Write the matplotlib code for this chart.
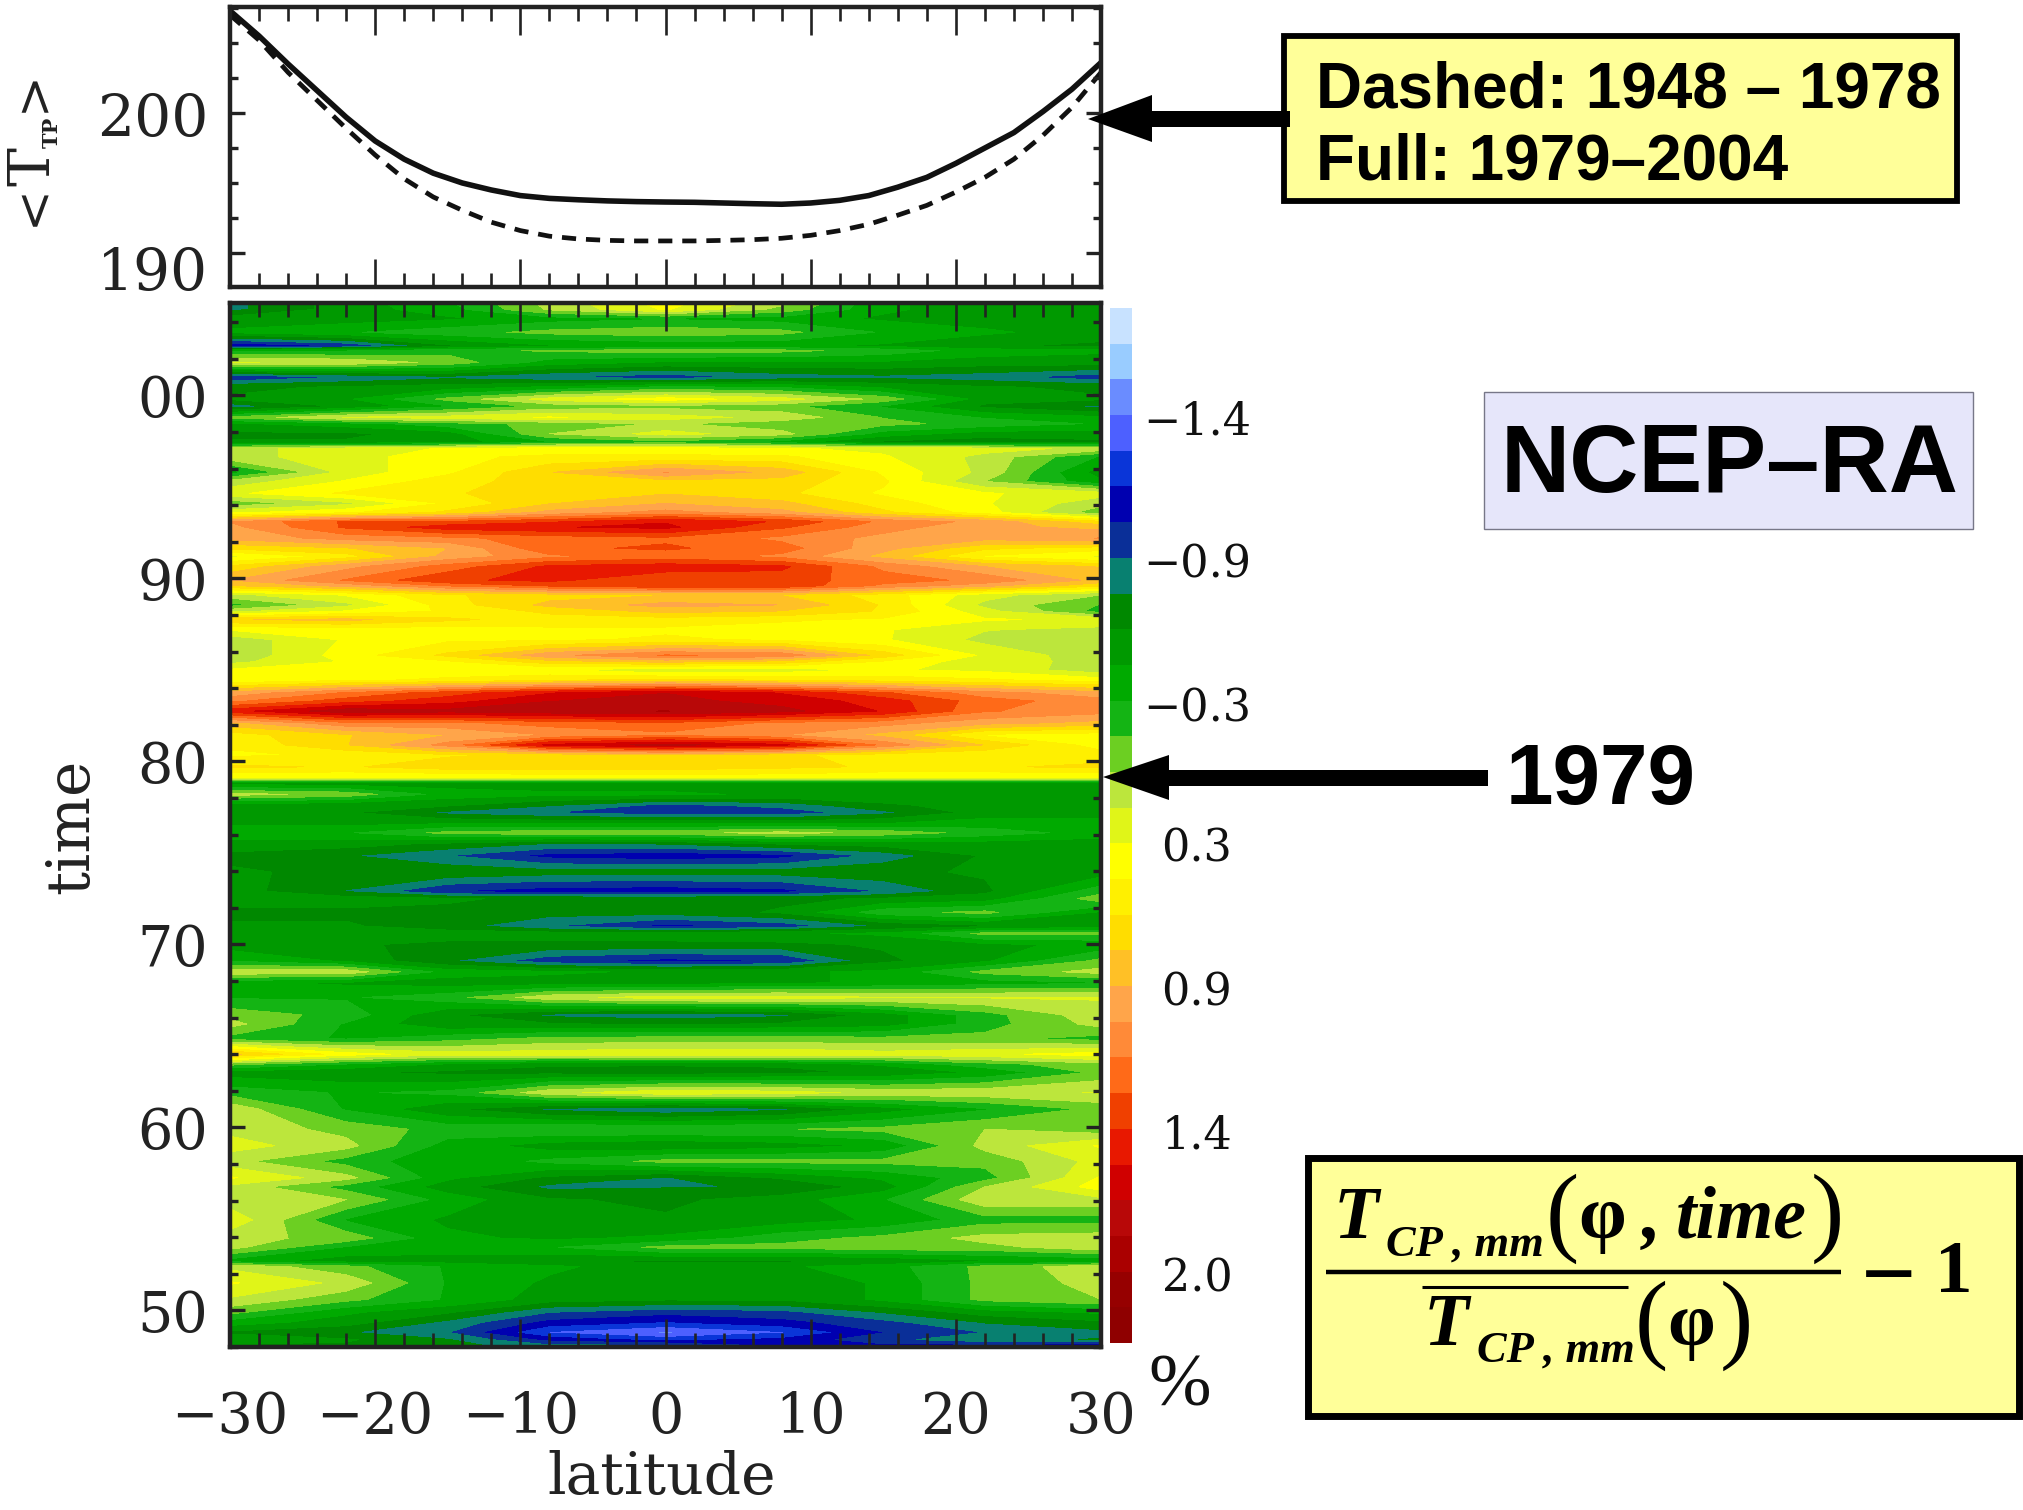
import numpy as np
import matplotlib
matplotlib.use('Agg')
import matplotlib.pyplot as plt
from matplotlib.colors import ListedColormap, BoundaryNorm
from matplotlib.patches import Rectangle, Polygon

W, H = 2024, 1510

# top panel, zonal mean temperature
lat_line = np.arange(-30, 31, 2)
t_full = [207.3, 205.5, 203.5, 201.6, 199.7, 198.0, 196.7, 195.7, 195.0, 194.5, 194.1,
          193.9, 193.8, 193.72, 193.67, 193.64, 193.62, 193.57, 193.52, 193.48, 193.57,
          193.76, 194.1, 194.7, 195.4, 196.4, 197.5, 198.6, 200.1, 201.7, 203.6]
t_dash = [207.0, 205.2, 202.9, 200.9, 198.9, 197.0, 195.3, 194.0, 193.05, 192.2, 191.6,
          191.2, 191.0, 190.9, 190.86, 190.86, 190.86, 190.9, 190.95, 191.05, 191.26,
          191.6, 192.05, 192.7, 193.4, 194.35, 195.4, 196.7, 198.4, 200.4, 202.9]

# main panel, anomaly in percent (time counted from 1900, newest first)
lat = [-30, -22, -15, -8, 0, 8, 15, 22, 30]
time = [105.1, 104.7, 104.2, 103.45, 102.7, 102.45, 101.8, 101.0, 100.45, 99.8, 99.4, 98.8,
        98.45, 97.9, 97.45, 97.1, 96.65, 95.8, 95.3, 94.65, 94.1, 93.6, 93.1, 92.8, 92.2,
        91.65, 91.2, 90.65, 89.9, 89.6, 89.1, 88.55, 88.2, 87.75, 87.2, 86.65, 85.8, 85.45,
        85.0, 84.45, 83.75, 83.3, 82.75, 82.1, 81.45, 80.9, 80.35, 79.7, 79.15, 78.8,
        78.2, 77.6, 77.2, 76.55, 76.1, 75.5, 74.85, 73.95, 72.9, 72.5, 71.75, 71.0, 70.6,
        70.0, 69.1, 68.5, 67.9, 67.1, 66.15, 65.65, 64.85, 64.0, 63.45, 63.0, 61.9, 61.0,
        59.9, 59.0, 58.15, 57.25, 56.75, 56.05, 54.95, 53.95, 53.45, 52.7, 52.4, 51.5,
        50.6, 49.9, 49.35, 48.8, 48.4, 48.05]
anom = [
    [-.75, -.5, -.3, .05, .35, .05, -.4, -.5, -.5],
    [-.75, -.5, -.35, .02, .3, -.05, -.4, -.5, -.5],
    [-.5, -.5, -.45, -.35, -.3, -.35, -.45, -.5, -.5],
    [-.4, -.3, -.2, -.1, -.05, -.1, -.3, -.4, -.5],
    [-1.15, -1.0, -.6, -.45, -.4, -.4, -.45, -.55, -.6],
    [-.3, -.3, -.2, -.12, -.08, -.1, -.2, -.35, -.4],
    [.15, .12, -.05, -.35, -.45, -.45, -.45, -.5, -.5],
    [-1.0, -.85, -.75, -.85, -.95, -.8, -.75, -.8, -.95],
    [-.6, -.55, -.5, -.4, -.25, -.3, -.45, -.55, -.6],
    [-.55, -.45, -.1, .2, .35, .2, -.05, -.5, -.55],
    [-.8, -.55, -.3, -.1, -.05, -.1, -.3, -.6, -.75],
    [-.1, .15, .2, .3, .2, .1, -.15, -.3, -.4],
    [-.45, -.35, -.2, -.1, .02, -.1, -.1, -.2, -.3],
    [-.6, -.6, -.5, .0, .2, .05, -.35, -.5, -.5],
    [-.55, -.55, -.5, -.3, -.2, -.35, -.6, -.65, -.6],
    [.1, .2, .3, .35, .35, .3, .25, .2, .1],
    [.1, .2, .4, .45, .45, .45, .3, .1, -.3],
    [-.35, .2, .4, .7, 1.0, .8, .4, .1, -.5],
    [.05, .3, .5, .65, .65, .65, .45, .0, -.4],
    [.25, .45, .55, .65, .7, .6, .4, .3, .2],
    [-.1, .1, .45, .7, .85, .75, .5, .3, .05],
    [.25, .4, .6, .9, 1.05, .9, .6, .35, -.1],
    [1.0, 1.3, 1.3, 1.4, 1.55, 1.4, 1.1, .95, .6],
    [.95, 1.3, 1.5, 1.55, 1.6, 1.3, 1.05, .9, .8],
    [.9, 1.05, 1.1, 1.2, 1.25, 1.1, .95, .9, 1.0],
    [.6, .7, .85, 1.25, 1.3, 1.2, .9, .6, .5],
    [.25, .5, .9, 1.1, 1.2, 1.1, .8, .4, .25],
    [.6, .95, 1.2, 1.45, 1.5, 1.45, 1.1, .85, .7],
    [.85, 1.15, 1.4, 1.45, 1.3, 1.35, 1.2, 1.1, .8],
    [.7, .9, 1.15, 1.3, 1.4, 1.4, 1.1, .9, .6],
    [.1, .3, .55, .65, .7, .7, .5, .2, .0],
    [-.2, .1, .5, .75, .9, .85, .55, .1, -.15],
    [.1, .3, .45, .6, .75, .7, .55, .2, -.2],
    [.7, .75, .6, .5, .5, .45, .4, .3, .25],
    [.3, .35, .35, .4, .4, .35, .3, .15, .1],
    [.05, .3, .4, .4, .45, .4, .3, .1, .05],
    [.02, .35, .6, .95, 1.15, 1.1, .65, .25, .05],
    [.1, .3, .4, .65, .75, .65, .4, .2, .1],
    [.3, .35, .35, .3, .15, .2, .3, .25, .05],
    [.3, .4, .45, .55, .6, .55, .5, .45, .35],
    [.9, 1.15, 1.35, 1.55, 1.7, 1.55, 1.3, 1.05, .9],
    [1.1, 1.35, 1.5, 1.7, 1.75, 1.65, 1.5, 1.2, 1.05],
    [1.5, 1.8, 1.75, 1.8, 1.85, 1.75, 1.55, 1.15, 1.05],
    [.8, 1.1, 1.1, 1.2, 1.25, 1.1, 1.05, .9, .8],
    [.5, .7, .85, 1.0, 1.1, 1.0, .8, .4, .35],
    [.45, .7, 1.05, 1.6, 1.75, 1.6, 1.1, .7, .35],
    [.4, .45, .55, .6, .7, .6, .5, .45, .5],
    [.6, .55, .65, .65, .65, .6, .55, .55, .6],
    [.3, .3, .3, .35, .35, .35, .3, .3, .3],
    [-.5, -.5, -.5, -.5, -.5, -.5, -.5, -.5, -.5],
    [.05, -.05, -.35, -.4, -.4, -.45, -.45, -.45, -.45],
    [-.5, -.55, -.55, -.7, -.9, -.8, -.6, -.5, -.5],
    [-.55, -.55, -.75, -.85, -.95, -.95, -.75, -.5, -.45],
    [-.45, -.45, -.4, -.4, -.4, -.4, -.4, -.35, -.4],
    [-.3, -.3, -.1, -.05, -.05, .05, -.05, -.2, -.35],
    [-.5, -.5, -.6, -.72, -.7, -.55, -.5, -.5, -.5],
    [-.6, -.7, -.85, -1.05, -1.1, -1.05, -.8, -.55, -.5],
    [-.55, -.6, -.6, -.65, -.65, -.65, -.6, -.55, -.5],
    [-.5, -.72, -1.0, -1.08, -1.1, -1.05, -.85, -.6, -.2],
    [-.5, -.5, -.55, -.6, -.6, -.6, -.55, -.5, -.05],
    [-.6, -.6, -.6, -.65, -.65, -.55, -.2, -.1, -.45],
    [-.55, -.55, -.65, -.85, -1.05, -.95, -.7, -.6, -.5],
    [-.45, -.45, -.5, -.5, -.5, -.45, -.4, -.1, -.1],
    [-.5, -.55, -.6, -.6, -.6, -.6, -.55, -.45, -.4],
    [-.3, -.45, -.7, -.95, -1.05, -1.0, -.6, -.45, -.1],
    [.1, .1, -.35, -.4, -.45, -.45, -.4, -.1, .05],
    [-.4, -.45, -.5, -.5, -.5, -.45, -.4, -.35, -.3],
    [-.3, -.3, -.2, .1, .2, .2, .15, .15, .15],
    [-.05, -.2, -.55, -.75, -.8, -.75, -.5, -.2, .1],
    [.05, -.3, -.55, -.55, -.6, -.55, -.5, -.2, .05],
    [-.2, -.3, -.2, -.1, -.08, -.08, -.1, -.1, -.2],
    [.75, .35, .2, .22, .25, .25, .2, .25, .35],
    [-.1, -.3, -.45, -.55, -.55, -.55, -.4, -.2, -.05],
    [-.5, -.55, -.6, -.62, -.65, -.6, -.55, -.4, -.1],
    [-.2, -.3, -.25, .1, .25, .2, .1, .1, .15],
    [.1, -.3, -.55, -.75, -.85, -.75, -.5, -.3, -.1],
    [.1, -.05, -.2, -.15, -.15, -.15, -.1, .0, -.1],
    [.2, .05, -.35, -.5, -.55, -.5, -.4, .05, .3],
    [.05, -.2, -.4, -.25, -.1, -.1, -.1, -.1, .2],
    [.3, .05, -.4, -.6, -.72, -.55, -.4, -.2, .3],
    [.1, -.2, -.5, -.75, -.72, -.7, -.5, .0, .35],
    [.05, .0, -.35, -.55, -.6, -.5, -.3, .1, .1],
    [.25, -.3, -.45, -.5, -.55, -.5, -.4, -.2, -.2],
    [.05, -.05, -.4, -.45, -.4, -.2, -.1, .05, .08],
    [.05, -.3, -.35, -.3, -.1, -.1, -.05, -.05, .1],
    [-.35, -.5, -.5, -.55, -.6, -.6, -.55, -.45, -.4],
    [.1, -.1, -.3, -.4, -.5, -.45, -.35, -.1, .1],
    [.3, .1, -.3, -.45, -.55, -.55, -.4, -.1, .05],
    [.12, -.1, -.3, -.5, -.55, -.55, -.4, -.1, .0],
    [-.1, -.4, -.55, -.85, -.95, -.9, -.7, -.5, -.4],
    [-.35, -.5, -.75, -1.05, -1.15, -1.05, -.9, -.7, -.6],
    [-.6, -.7, -.85, -1.3, -1.45, -1.3, -1.0, -.85, -.75],
    [-.45, -.55, -.7, -1.05, -1.2, -1.1, -.9, -.75, -.7],
    [-.6, -.6, -.65, -.8, -.8, -1.0, -1.05, -1.1, -1.15],
]

# colour bar, 29 bands from the lightest blue down to dark red
band_colors = ['#c8e2ff', '#99ccff', '#6a8cff', '#4d60ff', '#0a35d8', '#0000b0', '#0a2f98',
               '#088070', '#008800', '#009900', '#00aa00', '#14b414', '#6ccf22', '#bce63c',
               '#e0f518', '#ffff00', '#fff000', '#ffdd00', '#ffc026', '#ffa54a', '#ff8a38',
               '#ff6a18', '#f04000', '#e81800', '#d00000', '#b80808', '#aa0000', '#960000',
               '#8f0000']
band_edges = [i * 0.142 for i in range(-13, 17)]
cbar_ticks = [-1.41, -0.84, -0.27, 0.29, 0.86, 1.43, 2.0]
cbar_labels = ['\u22121.4', '\u22120.9', '\u22120.3', '0.3', '0.9', '1.4', '2.0']

time_ticks = [50, 60, 70, 80, 90, 100]
time_labels = ['50', '60', '70', '80', '90', '00']
lat_ticks = [-30, -20, -10, 0, 10, 20, 30]
lat_labels = ['\u221230', '\u221220', '\u221210', '0', '10', '20', '30']

SERIF = 'DejaVu Serif'
INK = '#222222'


def box(x0, y0, x1, y1):
    # pixel box of the reference -> figure fraction
    return [x0 / W, 1 - y1 / H, (x1 - x0) / W, (y1 - y0) / H]


def frame(ax):
    for s in ax.spines.values():
        s.set_linewidth(3.2)
        s.set_color(INK)
    ax.set_axisbelow(False)
    ax.tick_params(axis='x', which='major', direction='in', length=20, width=1.9,
                   top=True, bottom=True, color=INK)
    ax.tick_params(axis='x', which='minor', direction='in', length=10, width=1.9,
                   top=True, bottom=True, color=INK)
    ax.tick_params(axis='y', which='major', direction='in', length=11, width=2.4,
                   left=True, right=True, color=INK)
    ax.tick_params(axis='y', which='minor', direction='in', length=6, width=2.4,
                   left=True, right=True, color=INK)
    ax.set_xlim(-30, 30)
    ax.set_xticks(lat_ticks)
    ax.set_xticks(range(-30, 31, 2), minor=True)


fig = plt.figure(figsize=(W / 100, H / 100), dpi=100, facecolor='white')

# top panel
ax1 = fig.add_axes(box(230, 7, 1101, 287))
ax1.plot(lat_line, t_full, color='#111111', lw=4)
ax1.plot(lat_line, t_dash, color='#111111', lw=3.4, dashes=(3, 2.1))
frame(ax1)
ax1.set_ylim(187.57, 207.57)
ax1.set_yticks([190, 200])
ax1.set_yticks(np.arange(190, 207.6, 2.5), minor=True)
ax1.set_xticklabels([])
ax1.set_yticklabels([])

# main panel
ax2 = fig.add_axes(box(230, 303, 1101, 1347))
cmap = ListedColormap(band_colors)
norm = BoundaryNorm(band_edges, cmap.N)
cmap.set_under(band_colors[0])
cmap.set_over(band_colors[-1])
t_arr = np.array(time)[::-1]
z_arr = np.array(anom)[::-1]
ax2.contourf(lat, t_arr, z_arr, levels=band_edges, cmap=cmap, norm=norm, extend='both')
frame(ax2)
ax2.set_ylim(48.1, 105.05)
ax2.set_yticks(time_ticks)
ax2.set_yticks(range(48, 106, 2), minor=True)
ax2.set_yticklabels(time_labels, family=SERIF, fontsize=40, color=INK)
ax2.set_xticklabels(lat_labels, family=SERIF, fontsize=40, color=INK)
ax2.tick_params(axis='y', which='major', pad=16)
ax2.tick_params(axis='x', which='major', pad=31)

# colour bar
cax = fig.add_axes(box(1110, 308, 1132, 1343))
cax.pcolormesh([0, 1], band_edges, np.array(band_edges[:-1])[:, None] + 0.071, cmap=cmap, norm=norm)
cax.set_ylim(band_edges[-1], band_edges[0])
cax.set_axis_off()
for v, s in zip(cbar_ticks, cbar_labels):
    cax.text(3.95, v, s, transform=cax.get_yaxis_transform(), ha='center', va='center_baseline',
             family=SERIF, fontsize=32, color='#111111', clip_on=False)

# everything else sits on an overlay in reference pixels
ov = fig.add_axes([0, 0, 1, 1], facecolor='none')
ov.set_xlim(0, W)
ov.set_ylim(H, 0)
ov.set_axis_off()

ov.text(208, 114, '200', family=SERIF, fontsize=42, color=INK, ha='right', va='center_baseline')
ov.text(208, 268, '190', family=SERIF, fontsize=42, color=INK, ha='right', va='center_baseline')

ov.text(662, 1494, 'latitude', family=SERIF, fontsize=42, color=INK, ha='center', va='baseline')
ov.text(71, 826, 'time', family=SERIF, fontsize=43, color=INK, ha='center', va='center', rotation=90)
ov.text(1180, 1388, '%', family='Liberation Serif', fontsize=54, color='#111111', ha='center', va='center')

# y label of the top panel
ov.text(33, 205, '<', family=SERIF, fontsize=36, rotation=90, ha='center', va='center', color=INK)
ov.text(33, 166, 'T', family=SERIF, fontsize=42, rotation=90, ha='center', va='center', color=INK)
ov.text(52, 132, 'TP', family=SERIF, fontsize=15, fontweight='bold', rotation=90, ha='center', va='center', color=INK)
ov.text(33, 91, '>', family=SERIF, fontsize=36, rotation=90, ha='center', va='center', color=INK)

# legend box and arrow
ov.add_patch(Rectangle((1284, 36), 673, 165, fc='#ffff99', ec='black', lw=4.2))
ov.text(1316, 91, 'Dashed: 1948 \u2013 1978', family='Liberation Sans', fontweight='bold', fontsize=46, va='center')
ov.text(1316, 163, 'Full: 1979\u20132004', family='Liberation Sans', fontweight='bold', fontsize=46, va='center')
ov.add_patch(Polygon([(1088, 119), (1152, 95), (1152, 111), (1290, 111), (1290, 127), (1152, 127), (1152, 142)],
                     fc='black', ec='none'))

# NCEP box
ov.add_patch(Rectangle((1484, 392), 489, 137, fc='#e6e6fa', ec='#777788', lw=1))
ov.text(1730, 467, 'NCEP\u2013RA', family='Liberation Sans', fontweight='bold', fontsize=69, ha='center', va='center')

# 1979 marker
ov.add_patch(Polygon([(1103, 777), (1169, 755), (1169, 770), (1488, 770), (1488, 786), (1169, 786), (1169, 800)],
                     fc='black', ec='none'))
ov.text(1506, 782, '1979', family='Liberation Sans', fontweight='bold', fontsize=61.5, va='center')

# formula box
ov.add_patch(Rectangle((1308, 1158), 711, 258, fc='#ffff99', ec='black', lw=5))
fs = dict(family='Liberation Serif', fontweight='bold', color='black', va='baseline')
paren = dict(family='Liberation Serif', fontsize=72, va='baseline', color='black')
ov.text(1334, 1238, 'T', fontsize=53, style='italic', **fs)
ov.text(1386, 1256, 'CP , mm', fontsize=32, style='italic', **fs)
ov.text(1546, 1243, '(', **paren)
ov.text(1578, 1238, '\u03c6', fontsize=55, **fs)
ov.text(1642, 1238, ',', fontsize=55, style='italic', **fs)
ov.text(1676, 1238, 'time', fontsize=53, style='italic', **fs)
ov.text(1811, 1243, ')', **paren)
ov.plot([1326, 1841], [1272, 1272], color='black', lw=3.2, solid_capstyle='butt')
ov.plot([1422, 1628], [1287, 1287], color='black', lw=2.2, solid_capstyle='butt')
ov.text(1424, 1345, 'T', fontsize=53, style='italic', **fs)
ov.text(1477, 1362, 'CP , mm', fontsize=32, style='italic', **fs)
ov.text(1635, 1350, '(', **paren)
ov.text(1667, 1345, '\u03c6', fontsize=55, **fs)
ov.text(1720, 1350, ')', **paren)
ov.text(1889, 1272, '\u2212', fontsize=70, ha='center', family='Liberation Serif', fontweight='bold', color='black', va='center_baseline')
ov.text(1954, 1292, '1', fontsize=54, ha='center', family='Liberation Serif', fontweight='bold', color='black', va='baseline')

fig.savefig('out.png', dpi=100)
